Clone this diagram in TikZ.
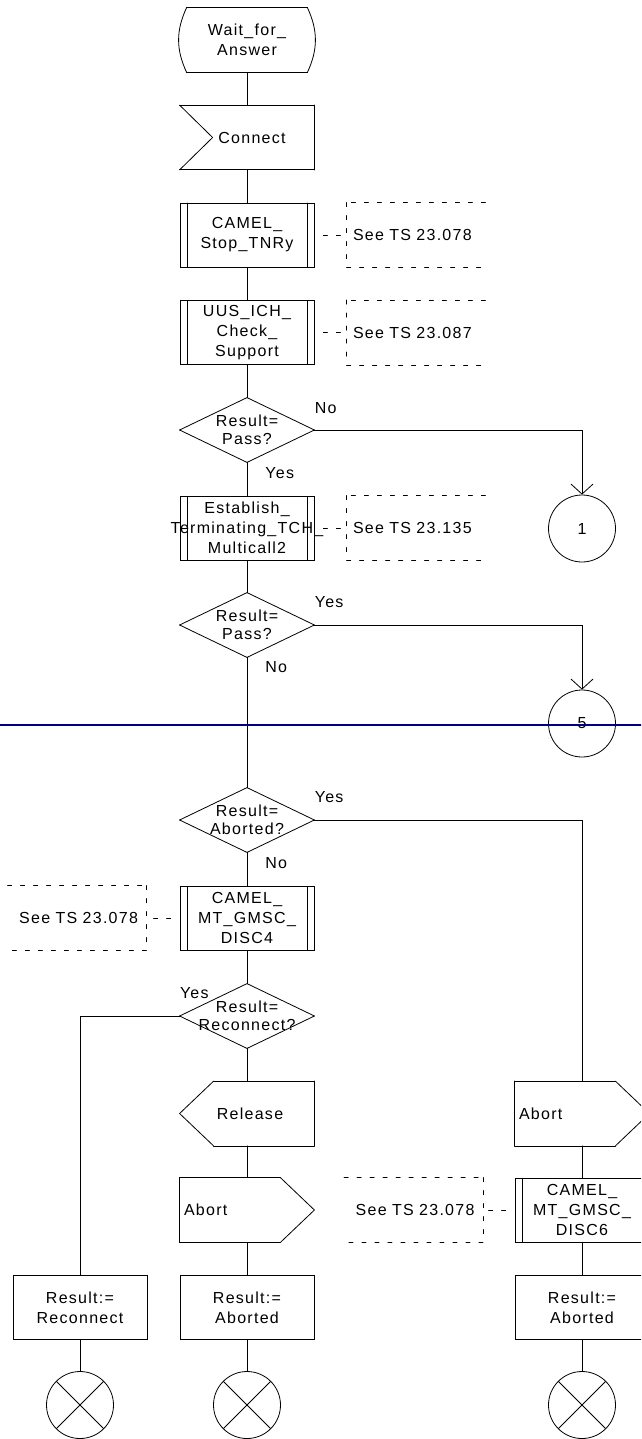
\documentclass[tikz,border=0pt]{standalone}
\usepackage{fontspec}
\setmainfont[LetterSpace=8]{Liberation Sans}
\usetikzlibrary{arrows.meta}
\definecolor{pagebreak}{RGB}{0,0,128}

\tikzset{
  every node/.style={font=\fontsize{16}{20}\selectfont},
  sdl/.style={minimum width=134pt, minimum height=64pt, inner sep=0pt, align=center},
  task/.style={sdl, draw},
  proc/.style={task, path picture={
    \draw ([xshift=7pt]path picture bounding box.north west) -- ([xshift=7pt]path picture bounding box.south west);
    \draw ([xshift=-7pt]path picture bounding box.north east) -- ([xshift=-7pt]path picture bounding box.south east);}},
  state/.style={sdl, minimum width=120pt, append after command={
    (\tikzlastnode.north west) edge (\tikzlastnode.north east)
    (\tikzlastnode.south west) edge (\tikzlastnode.south east)
    (\tikzlastnode.north west) edge[bend right=25] (\tikzlastnode.south west)
    (\tikzlastnode.north east) edge[bend left=25] (\tikzlastnode.south east)}},
  decision/.style={sdl, font=\fontsize{16}{18}\selectfont, append after command={
    (\tikzlastnode.north) edge (\tikzlastnode.east)
    (\tikzlastnode.east) edge (\tikzlastnode.south)
    (\tikzlastnode.south) edge (\tikzlastnode.west)
    (\tikzlastnode.west) edge (\tikzlastnode.north)}},
  insig/.style={sdl, append after command={
    (\tikzlastnode.north west) edge (\tikzlastnode.north east)
    (\tikzlastnode.north east) edge (\tikzlastnode.south east)
    (\tikzlastnode.south east) edge (\tikzlastnode.south west)
    (\tikzlastnode.south west) edge ([xshift=33pt]\tikzlastnode.west)
    ([xshift=33pt]\tikzlastnode.west) edge (\tikzlastnode.north west)}},
  relsig/.style={sdl, append after command={
    ([xshift=34pt]\tikzlastnode.north west) edge (\tikzlastnode.north east)
    (\tikzlastnode.north east) edge (\tikzlastnode.south east)
    (\tikzlastnode.south east) edge ([xshift=34pt]\tikzlastnode.south west)
    ([xshift=34pt]\tikzlastnode.south west) edge (\tikzlastnode.west)
    (\tikzlastnode.west) edge ([xshift=34pt]\tikzlastnode.north west)}},
  outsig/.style={sdl, text width=126pt, align=left, append after command={
    (\tikzlastnode.north west) edge ([xshift=-34pt]\tikzlastnode.north east)
    ([xshift=-34pt]\tikzlastnode.north east) edge (\tikzlastnode.east)
    (\tikzlastnode.east) edge ([xshift=-34pt]\tikzlastnode.south east)
    ([xshift=-34pt]\tikzlastnode.south east) edge (\tikzlastnode.south west)
    (\tikzlastnode.south west) edge (\tikzlastnode.north west)}},
  cmtline/.style={dash pattern=on 4pt off 9pt},
  cmtlink/.style={dash pattern=on 4pt off 9pt, dash phase=4pt},
  cmtright/.style={sdl, minimum width=138pt, text width=126pt, align=left, append after command={
    (\tikzlastnode.north east) edge[cmtline] (\tikzlastnode.north west)
    (\tikzlastnode.north west) edge[cmtline] (\tikzlastnode.south west)
    (\tikzlastnode.south west) edge[cmtline] (\tikzlastnode.south east)}},
  cmtleft/.style={sdl, minimum width=138pt, text width=122pt, align=right, append after command={
    (\tikzlastnode.north west) edge[cmtline] (\tikzlastnode.north east)
    (\tikzlastnode.north east) edge[cmtline] (\tikzlastnode.south east)
    (\tikzlastnode.south east) edge[cmtline] (\tikzlastnode.south west)}},
  conn/.style={circle, draw, minimum size=67pt, inner sep=0pt},
  endsym/.style={conn, path picture={
    \draw (path picture bounding box.north west) -- (path picture bounding box.south east)
          (path picture bounding box.north east) -- (path picture bounding box.south west);}},
  lbl/.style={inner sep=0pt, anchor=west},
  flowarrow/.style={-{Straight Barb[length=10pt,width=22pt]}}
}

\begin{document}
\begin{tikzpicture}[x=1pt, y=-1pt, line width=0.8pt, line cap=round]
  \useasboundingbox (0,0) rectangle (641,1439);
  \clip (0,0) rectangle (641,1439);
  \node[state] (wait) at (247,40) {Wait\_for\_\\Answer};
  \node[insig] (connect) at (247,137.5) {\hspace*{10pt}Connect};
  \node[proc] (stoptnry) at (247,235) {CAMEL\_\\Stop\_TNRy};
  \node[cmtright] (seestoptnry) at (416,235) {See TS 23.078};
  \node[proc] (uus) at (247,332.5) {UUS\_ICH\_\\Check\_\\Support};
  \node[cmtright] (seeuus) at (416,332.5) {See TS 23.087};
  \node[decision] (passa) at (247,430) {Result=\\Pass?};
  \node[conn] (con1) at (582,528.5) {1};
  \node[proc] (estab) at (247,528) {Establish\_\\\makebox[0pt]{Terminating\_TCH\_}\\Multicall2};
  \node[cmtright] (seeestab) at (416,528) {See TS 23.135};
  \node[decision] (passb) at (247,625) {Result=\\Pass?};
  \node[conn] (con5) at (582,723.5) {5};
  \node[decision] (aborted) at (247,820) {Result=\\Aborted?};
  \node[proc] (disc4) at (247,918) {CAMEL\_\\MT\_GMSC\_\\DISC4};
  \node[cmtleft] (seedisc4) at (77,918) {See TS 23.078};
  \node[decision] (reconn) at (247,1016) {Result=\\Reconnect?};
  \node[relsig] (release) at (247,1113.5) {\hspace*{6pt}Release};
  \node[outsig] (abortm) at (247,1210) {Abort};
  \node[outsig] (abortr) at (582,1113.5) {Abort};
  \node[proc] (disc6) at (582,1210) {CAMEL\_\\MT\_GMSC\_\\DISC6};
  \node[cmtleft] (seedisc6) at (413.5,1210) {See TS 23.078};
  \node[task] (resrec) at (80,1307.5) {Result:=\\Reconnect};
  \node[task] (resabm) at (247,1307.5) {Result:=\\Aborted};
  \node[task] (resabr) at (582,1307.5) {Result:=\\Aborted};
  \node[endsym] (endl) at (80,1405) {};
  \node[endsym] (endm) at (247,1405) {};
  \node[endsym] (endr) at (582,1405) {};

  \node[lbl] (passano) at ([yshift=22pt]passa.east) {No};
  \node[lbl] (passayes) at ([xshift=18pt,yshift=-11pt]passa.south) {Yes};
  \node[lbl] (passbyes) at ([yshift=23pt]passb.east) {Yes};
  \node[lbl] (passbno) at ([xshift=18pt,yshift=-10pt]passb.south) {No};
  \node[lbl] (abortedyes) at ([yshift=23pt]aborted.east) {Yes};
  \node[lbl] (abortedno) at ([xshift=18pt,yshift=-11pt]aborted.south) {No};
  \node[lbl] (reconnyes) at ([yshift=23pt]reconn.west) {Yes};

  \draw (wait.south) -- (connect.north);
  \draw (connect.south) -- (stoptnry.north);
  \draw (stoptnry.south) -- (uus.north);
  \draw (uus.south) -- (passa.north);
  \draw[flowarrow] (passa.east) -| (con1.north);
  \draw (passa.south) -- (estab.north);
  \draw (estab.south) -- (passb.north);
  \draw[flowarrow] (passb.east) -| (con5.north);
  \draw (passb.south) -- (aborted.north);
  \draw (aborted.east) -| (abortr.north);
  \draw (aborted.south) -- (disc4.north);
  \draw (disc4.south) -- (reconn.north);
  \draw (reconn.west) -| (resrec.north);
  \draw (reconn.south) -- (release.north);
  \draw (release.south) -- (abortm.north);
  \draw (abortm.south) -- (resabm.north);
  \draw (abortr.south) -- (disc6.north);
  \draw (disc6.south) -- (resabr.north);
  \draw (resrec.south) -- (endl.north);
  \draw (resabm.south) -- (endm.north);
  \draw (resabr.south) -- (endr.north);

  \draw[cmtlink] (stoptnry.east) -- (seestoptnry.west);
  \draw[cmtlink] (uus.east) -- (seeuus.west);
  \draw[cmtlink] (estab.east) -- (seeestab.west);
  \draw[cmtlink] (disc4.west) -- (seedisc4.east);
  \draw[cmtlink] (disc6.west) -- (seedisc6.east);

  \draw[pagebreak, line width=1.6pt] (0,725) -- (641,725);
\end{tikzpicture}
\end{document}
